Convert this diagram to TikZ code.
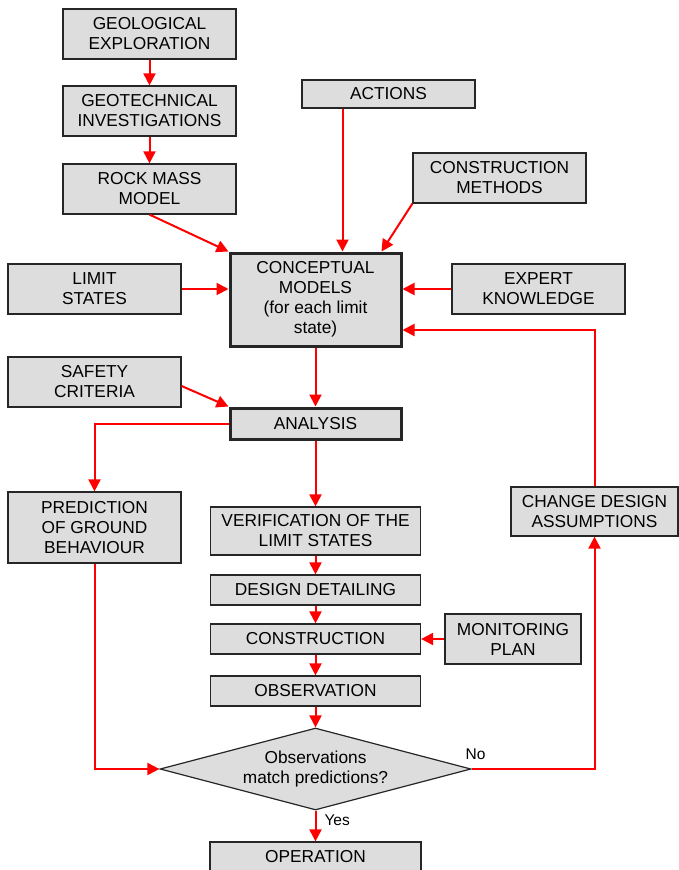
\documentclass[tikz,border=0pt]{standalone}
\usepackage{fontspec}
\setmainfont{Liberation Sans}
\usepackage{tikz}
\usetikzlibrary{arrows.meta, shapes.geometric}
\definecolor{boxgray}{HTML}{DDDDDD}
\tikzset{
    box/.style={draw=black!85, fill=boxgray, line width=1.2pt, align=center, inner sep=0pt,
        font=\fontsize{17.3}{20}\selectfont, minimum width=173pt, minimum height=50pt},
    keybox/.style={box, line width=3pt},
    flow/.style={draw=red, line width=2pt, -{Triangle[length=12pt,width=12pt]}},
    tag/.style={font=\fontsize{15.5}{18}\selectfont, inner sep=2pt}}

\begin{document}
\begin{tikzpicture}[x=1pt, y=-1pt]

                    \useasboundingbox (0,0) rectangle (678,870);

                    \node[box] (geo) at (149.5,34) {GEOLOGICAL\\EXPLORATION};
                    \node[box] (geotech) at (149.5,111) {GEOTECHNICAL\\INVESTIGATIONS};
                    \node[box] (rock) at (149.5,189) {ROCK MASS\\MODEL};
                    \node[box, minimum height=28pt] (actions) at (388.5,94) {ACTIONS};
                    \node[box] (methods) at (499.5,178) {CONSTRUCTION\\METHODS};
                    \node[box] (limit) at (94.5,289) {LIMIT\\STATES};
                    \node[keybox, minimum width=171pt, minimum height=93pt] (concept) at (315.5,299.5) {CONCEPTUAL\\MODELS\\(for each limit\\state)};
                    \node[box] (expert) at (538.5,289) {EXPERT\\KNOWLEDGE};
                    \node[box] (safety) at (94.5,382) {SAFETY\\CRITERIA};
                    \node[keybox, minimum width=171pt, minimum height=31pt] (analysis) at (315.5,423.5) {ANALYSIS};
                    \node[box, minimum height=71pt] (predict) at (94.5,527.5) {PREDICTION\\OF GROUND\\BEHAVIOUR};
                    \node[box, minimum width=210pt, minimum height=48pt] (verify) at (315.5,531) {VERIFICATION OF THE\\LIMIT STATES};
                    \node[box, minimum width=210pt, minimum height=30pt] (detail) at (315.5,590) {DESIGN DETAILING};
                    \node[box, minimum width=210pt, minimum height=30pt] (build) at (315.5,639) {CONSTRUCTION};
                    \node[box, minimum width=136pt] (monitor) at (513,639) {MONITORING\\PLAN};
                    \node[box, minimum width=210pt, minimum height=30pt] (observe) at (315.5,691) {OBSERVATION};
                    \node[box, shape=diamond, aspect=3.79, minimum width=311pt, minimum height=82pt] (match) at (315.5,769) {Observations\\match predictions?};
                    \node[box, minimum width=211pt, minimum height=30pt] (operate) at (315.5,857) {OPERATION};
                    \node[box, minimum width=167pt, minimum height=49pt] (change) at (594.5,511.5) {CHANGE DESIGN\\ASSUMPTIONS};

                    \draw[flow] (geo) -- (geotech);
                    \draw[flow] (geotech) -- (rock);
                    \draw[flow] (rock.south) -- (concept.north west);
                    \draw[flow] ([xshift=27pt]concept.north |- actions.south) -- ([xshift=27pt]concept.north);
                    \draw[flow] (methods.south west) -- ([xshift=66pt]concept.north);
                    \draw[flow] (limit) -- (limit -| concept.west);
                    \draw[flow] (expert) -- (expert -| concept.east);
                    \draw[flow] (change.north) |- ([yshift=-30.5pt]concept.east);
                    \draw[flow] (concept) -- (analysis);
                    \draw[flow] ([yshift=-4pt]safety.east) -- (analysis.north west);
                    \draw[flow] (analysis.west) -| (predict.north);
                    \draw[flow] (analysis) -- (verify);
                    \draw[flow] (verify) -- (detail);
                    \draw[flow] (detail) -- (build);
                    \draw[flow] (monitor) -- (build);
                    \draw[flow] (build) -- (observe);
                    \draw[flow] (observe) -- (match);
                    \draw[flow] (predict.south) |- (match.west);
                    \draw[flow] (match.east) -| (change.south) node[tag, pos=0, above, xshift=4pt, yshift=6pt] {No};
                    \draw[flow] (match) -- (operate) node[tag, pos=0.3, right, xshift=6pt] {Yes};

                \end{tikzpicture}
\end{document}
